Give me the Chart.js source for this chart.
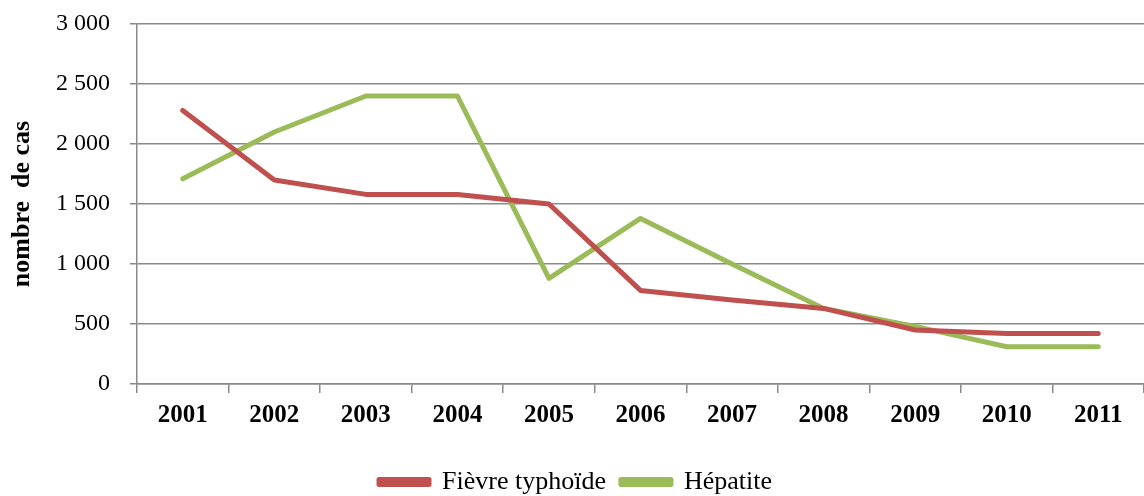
<!DOCTYPE html>
<html>
<head>
<meta charset="utf-8">
<script src="https://cdn.jsdelivr.net/npm/chart.js@4.4.1/dist/chart.umd.min.js"></script>
<style>
  html, body { margin: 0; padding: 0; background: #fff; }
  #wrap { width: 1144px; height: 496px; }
</style>
</head>
<body>
<div id="wrap"><canvas id="chartC" width="1144" height="496"></canvas></div>
<script>
// Données
const years    = ['2001', '2002', '2003', '2004', '2005', '2006', '2007', '2008', '2009', '2010', '2011'];
const typhoide = [2280, 1700, 1580, 1580, 1500, 780, 700, 630, 450, 420, 420];
const hepatite = [1710, 2100, 2400, 2400, 880, 1380, 1000, 630, 480, 310, 310];

const FONT = "'Liberation Serif', 'Times New Roman', serif";
const gridColor = '#8a8a8a';

// séparateur de milliers avec espace : 3 000
const fmt = v => String(v).replace(/\B(?=(\d{3})+(?!\d))/g, ' ');

new Chart(document.getElementById('chartC'), {
  type: 'line',
  data: {
    labels: years,
    datasets: [
      {
        label: 'Fièvre typhoïde',
        data: typhoide,
        borderColor: '#C0504D',
        backgroundColor: '#C0504D',
        borderWidth: 5,
        pointRadius: 0,
        tension: 0,
        borderCapStyle: 'round',
        borderJoinStyle: 'round',
      },
      {
        label: 'Hépatite',
        data: hepatite,
        borderColor: '#9BBB59',
        backgroundColor: '#9BBB59',
        borderWidth: 5,
        pointRadius: 0,
        tension: 0,
        borderCapStyle: 'round',
        borderJoinStyle: 'round',
      },
    ],
  },
  options: {
    responsive: false,
    animation: false,
    layout: { padding: { top: 24, right: 0, left: 7, bottom: -9 } },
    plugins: {
      tooltip: { enabled: false },
      legend: {
        position: 'bottom',
        labels: {
          color: '#000',
          font: { family: FONT, size: 26 },
          boxWidth: 50,
          boxHeight: 5,
          padding: 15,
        },
      },
    },
    scales: {
      x: {
        offset: true,
        afterFit: s => { s.height += 15; },
        grid: {
          offset: true,
          drawOnChartArea: false,
          color: gridColor,
          lineWidth: 1.5,
          tickLength: 9,
        },
        border: { color: gridColor, width: 1.5 },
        ticks: {
          color: '#000',
          font: { family: FONT, size: 25, weight: 'bold' },
          padding: 8,
          maxRotation: 0,
        },
      },
      y: {
        min: 0,
        max: 3000,
        afterFit: s => { s.width = 130; },
        grid: { color: gridColor, lineWidth: 1.5, tickLength: 7 },
        border: { color: gridColor, width: 1.5 },
        ticks: {
          stepSize: 500,
          color: '#000',
          // lineHeight réduit : évite la marge haute ajoutée par le padding des ticks
          font: { family: FONT, size: 24, lineHeight: 0.2 },
          padding: 20,
          callback: v => fmt(v),
        },
        title: {
          display: true,
          text: 'nombre  de cas',
          color: '#000',
          font: { family: FONT, size: 26, weight: 'bold' },
          padding: { top: 0, bottom: 0 },
        },
      },
    },
  },
});
</script>
</body>
</html>
